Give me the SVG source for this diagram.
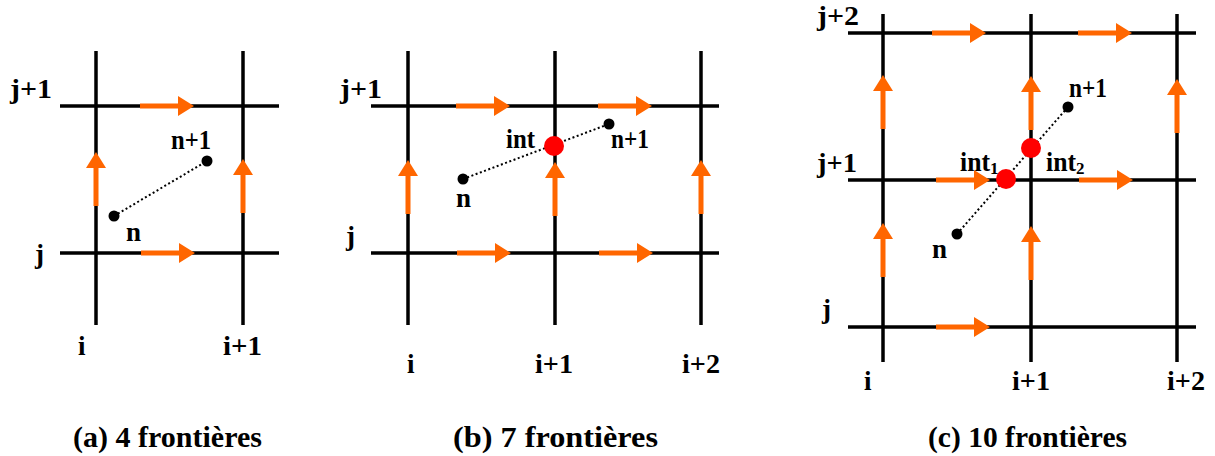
<svg xmlns="http://www.w3.org/2000/svg" xmlns:xlink="http://www.w3.org/1999/xlink" width="1215" height="456" viewBox="0 0 1215 456">
<style>
.g{stroke:#000;stroke-width:3.5;fill:none}
.d{stroke:#000;stroke-width:2;stroke-dasharray:2 2.5;fill:none}
.p{fill:#000}
.r{fill:#FF0000}
.a{fill:#FF6600}
text{font-family:"Liberation Serif","Times New Roman",serif;font-weight:bold;fill:#000}
.l{font-size:27px}
.c{font-size:30px}
.s{font-size:17px}
</style>
<defs>
<path id="ah" d="M0,-2.5 H38 V-10 L54,0 L38,10 V2.5 H0 Z"/>
</defs>
<rect width="1215" height="456" fill="#fff"/>

<g id="panel-a">
<g id="grid-a" class="g">
<line x1="96" y1="51" x2="96" y2="325"/>
<line x1="243" y1="51" x2="243" y2="325"/>
<line x1="60" y1="106" x2="279" y2="106"/>
<line x1="60" y1="253" x2="279" y2="253"/>
</g>
<g id="arrows-a" class="a">
<use xlink:href="#ah" transform="translate(140,106)"/>
<use xlink:href="#ah" transform="translate(141,253)"/>
<use xlink:href="#ah" transform="translate(96,206) rotate(-90)"/>
<use xlink:href="#ah" transform="translate(243,213) rotate(-90)"/>
</g>
<g id="path-a">
<line class="d" x1="114" y1="216" x2="207" y2="161"/>
<circle class="p" cx="114" cy="216" r="5.5"/>
<circle class="p" cx="207" cy="161" r="5.5"/>
</g>
<g id="labels-a" class="l">
<text x="10" y="98" textLength="42" lengthAdjust="spacingAndGlyphs">j+1</text>
<text x="35" y="263">j</text>
<text x="126" y="241">n</text>
<text x="171" y="149" textLength="40" lengthAdjust="spacingAndGlyphs">n+1</text>
<text x="78" y="355">i</text>
<text x="223" y="355" textLength="39" lengthAdjust="spacingAndGlyphs">i+1</text>
</g>
<text class="c" x="73" y="447" textLength="189" lengthAdjust="spacingAndGlyphs">(a) 4 frontières</text>
</g>

<g id="panel-b">
<g id="grid-b" class="g">
<line x1="408" y1="51" x2="408" y2="325"/>
<line x1="555" y1="51" x2="555" y2="325"/>
<line x1="701" y1="51" x2="701" y2="325"/>
<line x1="371" y1="106" x2="719" y2="106"/>
<line x1="371" y1="253" x2="719" y2="253"/>
</g>
<g id="arrows-b" class="a">
<use xlink:href="#ah" transform="translate(456,106)"/>
<use xlink:href="#ah" transform="translate(598,106)"/>
<use xlink:href="#ah" transform="translate(457,253)"/>
<use xlink:href="#ah" transform="translate(599,253)"/>
<use xlink:href="#ah" transform="translate(408,214) rotate(-90)"/>
<use xlink:href="#ah" transform="translate(555,216) rotate(-90)"/>
<use xlink:href="#ah" transform="translate(701,214) rotate(-90)"/>
</g>
<g id="path-b">
<line class="d" x1="463" y1="179" x2="609" y2="124"/>
<circle class="p" cx="463" cy="179" r="5.5"/>
<circle class="p" cx="609" cy="124" r="5.5"/>
<circle class="r" cx="554" cy="146" r="10"/>
</g>
<g id="labels-b" class="l">
<text x="340" y="98" textLength="42" lengthAdjust="spacingAndGlyphs">j+1</text>
<text x="346" y="245">j</text>
<text x="506" y="148" textLength="29" lengthAdjust="spacingAndGlyphs">int</text>
<text x="611" y="148" textLength="38" lengthAdjust="spacingAndGlyphs">n+1</text>
<text x="456" y="207">n</text>
<text x="407" y="373">i</text>
<text x="535" y="373" textLength="38" lengthAdjust="spacingAndGlyphs">i+1</text>
<text x="682" y="373" textLength="38" lengthAdjust="spacingAndGlyphs">i+2</text>
</g>
<text class="c" x="453" y="447" textLength="205" lengthAdjust="spacingAndGlyphs">(b) 7 frontières</text>
</g>

<g id="panel-c">
<g id="grid-c" class="g">
<line x1="883" y1="14" x2="883" y2="362"/>
<line x1="1031" y1="14" x2="1031" y2="362"/>
<line x1="1177" y1="14" x2="1177" y2="362"/>
<line x1="848" y1="33" x2="1196" y2="33"/>
<line x1="848" y1="180" x2="1196" y2="180"/>
<line x1="848" y1="327" x2="1196" y2="327"/>
</g>
<g id="arrows-c" class="a">
<use xlink:href="#ah" transform="translate(932,33)"/>
<use xlink:href="#ah" transform="translate(1078,33)"/>
<use xlink:href="#ah" transform="translate(936,180)"/>
<use xlink:href="#ah" transform="translate(1079,180)"/>
<use xlink:href="#ah" transform="translate(936,327)"/>
<use xlink:href="#ah" transform="translate(883,129) rotate(-90)"/>
<use xlink:href="#ah" transform="translate(883,277) rotate(-90)"/>
<use xlink:href="#ah" transform="translate(1031,130) rotate(-90)"/>
<use xlink:href="#ah" transform="translate(1031,280) rotate(-90)"/>
<use xlink:href="#ah" transform="translate(1177,133) rotate(-90)"/>
</g>
<g id="path-c">
<line class="d" x1="957" y1="234" x2="1068" y2="107"/>
<circle class="p" cx="957" cy="234" r="5.5"/>
<circle class="p" cx="1068" cy="107" r="5.5"/>
<circle class="r" cx="1006" cy="179" r="10"/>
<circle class="r" cx="1031" cy="148" r="10"/>
</g>
<g id="labels-c" class="l">
<text x="817" y="25" textLength="42" lengthAdjust="spacingAndGlyphs">j+2</text>
<text x="817" y="172" textLength="40" lengthAdjust="spacingAndGlyphs">j+1</text>
<text x="822" y="318">j</text>
<text x="960" y="171"><tspan textLength="30" lengthAdjust="spacingAndGlyphs">int</tspan><tspan class="s" dy="3">1</tspan></text>
<text x="1046" y="171"><tspan textLength="30" lengthAdjust="spacingAndGlyphs">int</tspan><tspan class="s" dy="3">2</tspan></text>
<text x="1069" y="97" textLength="38" lengthAdjust="spacingAndGlyphs">n+1</text>
<text x="932" y="258">n</text>
<text x="864" y="390">i</text>
<text x="1012" y="390" textLength="38" lengthAdjust="spacingAndGlyphs">i+1</text>
<text x="1167" y="390" textLength="38" lengthAdjust="spacingAndGlyphs">i+2</text>
</g>
<text class="c" x="928" y="447" textLength="199" lengthAdjust="spacingAndGlyphs">(c) 10 frontières</text>
</g>
</svg>
